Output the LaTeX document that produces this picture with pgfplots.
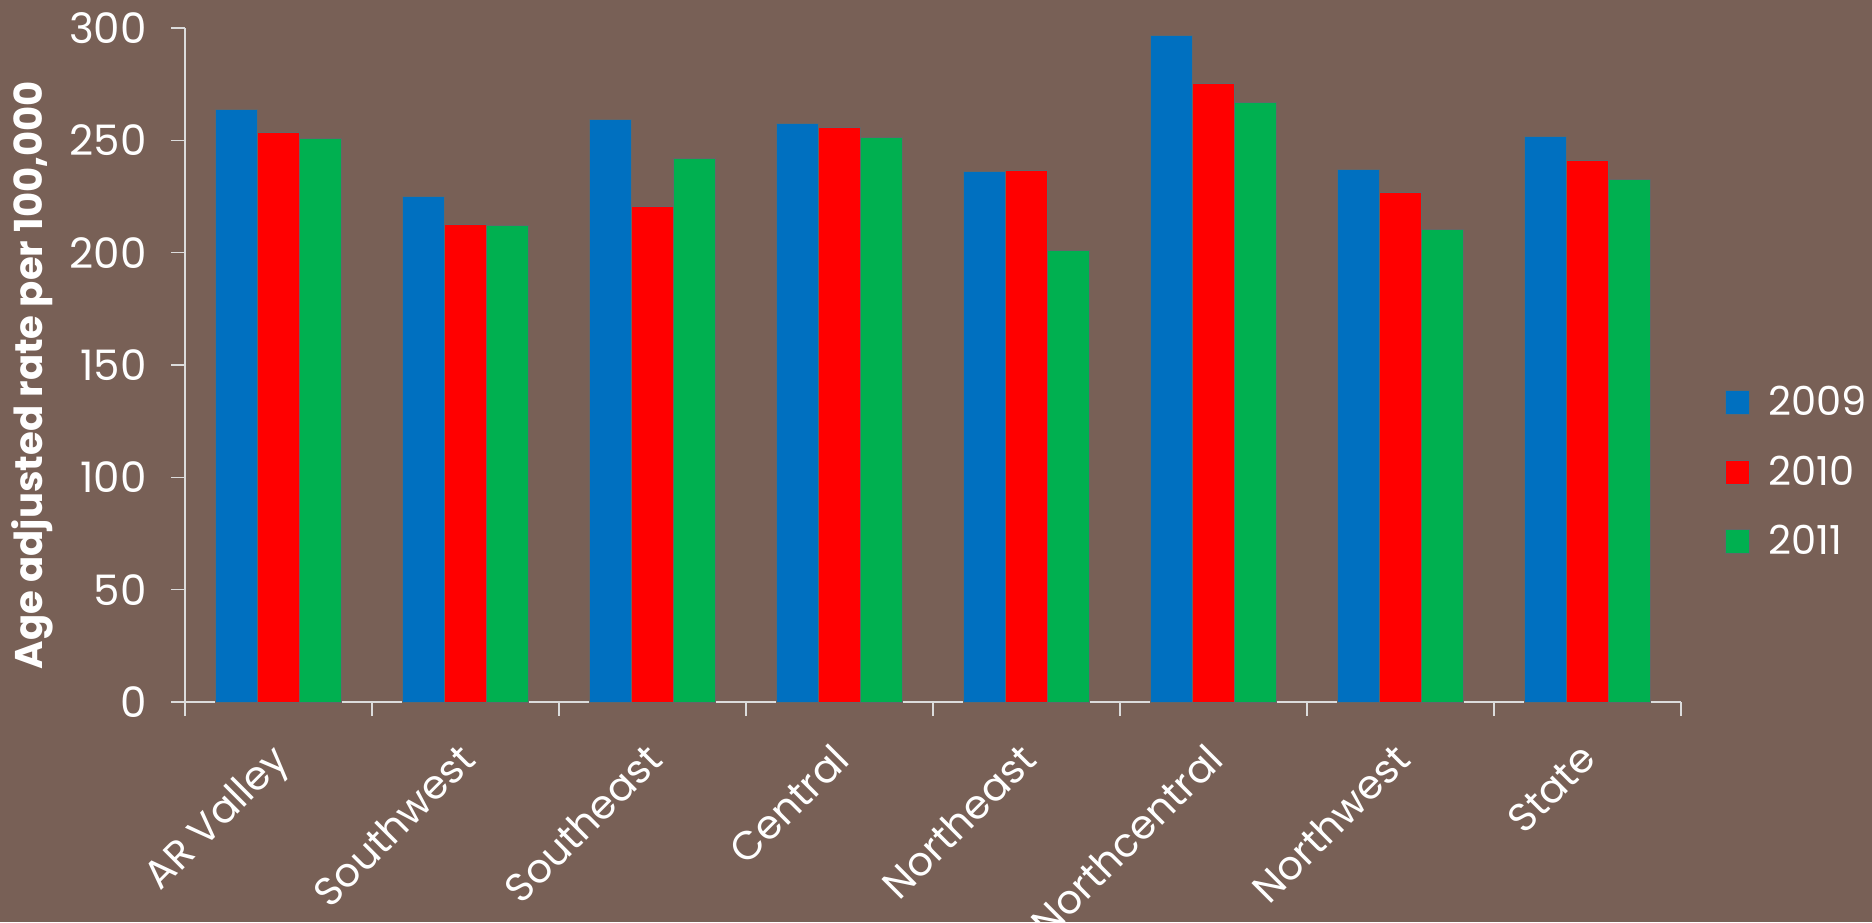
\documentclass[border=0pt]{standalone}
\usepackage{fontspec}
\setmainfont{Poppins}
\usepackage{pgfplots}
\pgfplotsset{compat=1.18}
\definecolor{bg}{RGB}{120,96,86}
\definecolor{cblue}{RGB}{0,112,192}
\definecolor{cred}{RGB}{255,0,0}
\definecolor{cgreen}{RGB}{0,176,80}
\definecolor{axcol}{RGB}{220,220,220}
\begin{document}
\begin{tikzpicture}
\fill[bg] (0,0) rectangle (936pt,461pt);
\begin{axis}[
  at={(92.5pt,110pt)}, anchor=south west,
  scale only axis, width=748pt, height=337pt,
  xmin=-0.5, xmax=7.5, ymin=0, ymax=300,
  ytick={0,50,...,300},
  xtick={0,...,7},
  xticklabels={AR Valley,Southwest,Southeast,Central,Northeast,Northcentral,Northwest,State},
  minor xtick={-0.5,0.5,1.5,2.5,3.5,4.5,5.5,6.5,7.5},
  major x tick style={draw=none},
  axis x line*=bottom, axis y line*=left,
  axis line style={-, draw=axcol, line width=0.8pt},
  tick style={draw=axcol, line width=0.8pt},
  tick align=outside,
  major tick length=7pt, minor tick length=7pt,
  /pgf/number format/assume math mode=true,
  ticklabel style={font=\fontsize{20}{24}\selectfont, text=white},
  xticklabel style={font=\fontsize{20}{24}\selectfont, rotate=45, anchor=north east, inner sep=2pt, xshift=-10pt, yshift=-3.6pt},
  yticklabel style={font=\fontsize{21}{24}\selectfont, inner sep=4pt, xshift=-8pt},
  ylabel={Age adjusted rate per 100,000},
  ylabel style={font=\fontsize{19.3}{22}\selectfont\bfseries, text=white, at={(axis description cs:-0.1020,0.485)}, anchor=center},
  ybar, bar width=0.224,
  legend style={at={(1.025,0.341)}, anchor=west, draw=none, fill=none, text=white,
    font=\fontsize{20}{24}\selectfont, row sep=14.5pt},
  legend cell align=left,
  legend image code/.code={\fill[#1, draw=black!60, line width=0.4pt] (0pt,-6pt) rectangle (12pt,6pt); \path (19.5pt,0pt);},
]
\addplot[fill=cblue, draw=black!60, line width=0.5pt, bar shift=-0.224] coordinates {
 (0,263.9) (1,224.8) (2,259.2) (3,257.6) (4,236.0) (5,296.5) (6,237.0) (7,251.9)};
\addplot[fill=cred, draw=black!60, line width=0.5pt, bar shift=0] coordinates {
 (0,253.6) (1,212.6) (2,220.4) (3,255.9) (4,236.6) (5,275.2) (6,226.8) (7,241.2)};
\addplot[fill=cgreen, draw=black!60, line width=0.5pt, bar shift=0.224] coordinates {
 (0,250.8) (1,212.1) (2,242.1) (3,251.3) (4,201.1) (5,266.8) (6,210.3) (7,232.5)};
\legend{2009,2010,2011}
\end{axis}
\pgfresetboundingbox
\useasboundingbox (0,0) rectangle (936pt,461pt);
\end{tikzpicture}
\end{document}
